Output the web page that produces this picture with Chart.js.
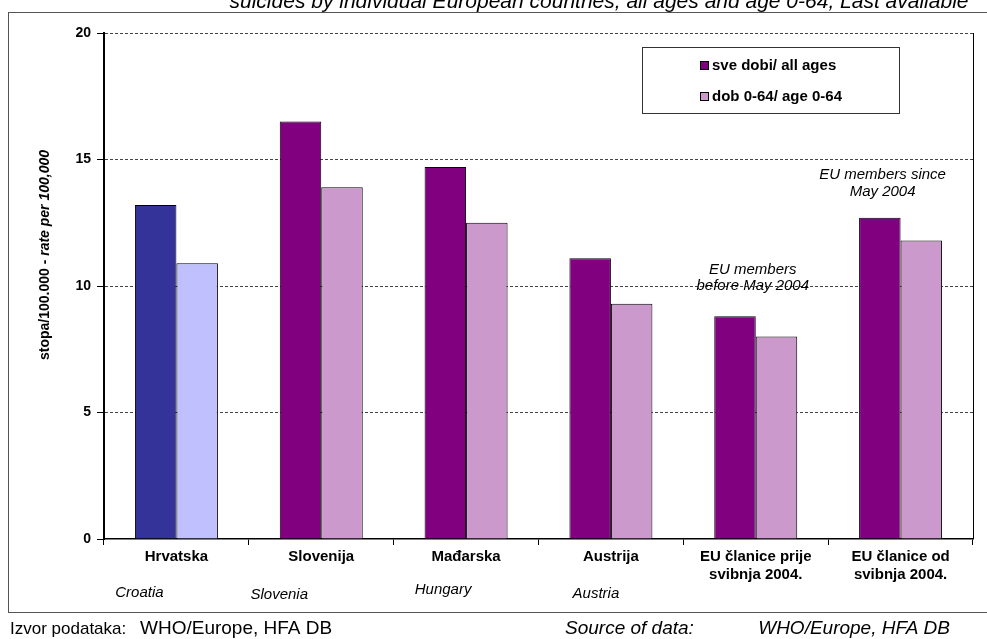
<!DOCTYPE html>
<html>
<head>
<meta charset="utf-8">
<script src="https://cdn.jsdelivr.net/npm/chart.js@4.4.1/dist/chart.umd.min.js"></script>
<style>
  html, body { margin: 0; padding: 0; background: #fff; }
  #wrap { width: 987px; height: 639px; position: relative; }
</style>
</head>
<body>
<div id="wrap"><canvas id="chart" width="987" height="639"></canvas></div>
<script>
  // 数据
  const categories = [
    ['Hrvatska'],
    ['Slovenija'],
    ['Mađarska'],
    ['Austrija'],
    ['EU članice prije', 'svibnja 2004.'],
    ['EU članice od', 'svibnja 2004.']
  ];
  const englishNames = ['Croatia', 'Slovenia', 'Hungary', 'Austria'];
  const allAges = [13.2, 16.5, 14.7, 11.1, 8.8, 12.7];
  const age064 = [10.9, 13.9, 12.5, 9.3, 8.0, 11.8];
  const seriesNames = ['sve dobi/ all ages', 'dob 0-64/ age 0-64'];

  // 颜色 (Hrvatska 单独着色)
  const allAgesColors = ['#333399', '#800080', '#800080', '#800080', '#800080', '#800080'];
  const age064Colors = ['#C0C0FF', '#CC99CC', '#CC99CC', '#CC99CC', '#CC99CC', '#CC99CC'];

  const FONT = '"Liberation Sans", Arial, sans-serif';

  // 自定义绘制: 外框, 标题, 图例, 注释, 来源
  const decorations = {
    id: 'decorations',
    beforeDraw(chart) {
      const ctx = chart.ctx;
      ctx.save();
      ctx.fillStyle = '#fff';
      ctx.fillRect(0, 0, chart.width, chart.height);
      ctx.restore();
    },
    afterDraw(chart) {
      const ctx = chart.ctx;
      const area = chart.chartArea;
      const x = chart.scales.x;
      ctx.save();

      // 外框
      ctx.strokeStyle = '#555';
      ctx.lineWidth = 1;
      ctx.strokeRect(8.5, 12.5, 990, 600);

      // 绘图区右边线
      ctx.strokeStyle = '#000';
      ctx.beginPath();
      ctx.moveTo(area.right + 0.5, area.top);
      ctx.lineTo(area.right + 0.5, area.bottom);
      ctx.stroke();

      // 标题 (上部被裁掉)
      ctx.fillStyle = '#000';
      ctx.font = 'italic 21px ' + FONT;
      ctx.textAlign = 'center';
      ctx.textBaseline = 'alphabetic';
      ctx.fillText('suicides by individual European countries, all ages and age 0-64, Last available', 599, 8);

      // Y 轴标题
      ctx.save();
      ctx.translate(45, 255);
      ctx.rotate(-Math.PI / 2);
      const p1 = 'stopa/100.000 - ';
      const p2 = 'rate per 100,000';
      ctx.font = 'bold 14px ' + FONT;
      const w1 = ctx.measureText(p1).width;
      ctx.font = 'italic bold 14px ' + FONT;
      const w2 = ctx.measureText(p2).width;
      ctx.textAlign = 'left';
      ctx.textBaseline = 'middle';
      ctx.font = 'bold 14px ' + FONT;
      ctx.fillText(p1, -(w1 + w2) / 2, 0);
      ctx.font = 'italic bold 14px ' + FONT;
      ctx.fillText(p2, -(w1 + w2) / 2 + w1, 0);
      ctx.restore();

      // 英文国名
      ctx.font = 'italic 15px ' + FONT;
      ctx.textAlign = 'center';
      ctx.textBaseline = 'middle';
      const engDx = [-37, -42, -23, -15];
      const engY = [593, 595, 590, 594];
      englishNames.forEach((name, i) => {
        ctx.fillText(name, x.getPixelForValue(i) + engDx[i], engY[i]);
      });

      // 注释
      ctx.font = 'italic 15px ' + FONT;
      const c4 = x.getPixelForValue(4);
      const c5 = x.getPixelForValue(5);
      ctx.fillText('EU members', c4 - 3, 270);
      ctx.fillText('before May 2004', c4 - 3, 286);
      ctx.fillText('EU members since', c5 - 18, 175);
      ctx.fillText('May 2004', c5 - 18, 192);

      // 图例
      ctx.fillStyle = '#fff';
      ctx.fillRect(642, 47, 257, 66);
      ctx.strokeStyle = '#333';
      ctx.lineWidth = 1;
      ctx.strokeRect(642.5, 47.5, 257, 66);
      const legendColors = ['#800080', '#CC99CC'];
      const legendY = [66, 97];
      ctx.font = 'bold 15px ' + FONT;
      ctx.textAlign = 'left';
      seriesNames.forEach((name, i) => {
        ctx.fillStyle = legendColors[i];
        ctx.fillRect(700.5, legendY[i] - 4.5, 8, 8);
        ctx.strokeStyle = '#000';
        ctx.strokeRect(700.5, legendY[i] - 4.5, 8, 8);
        ctx.fillStyle = '#000';
        ctx.fillText(name, 712, legendY[i]);
      });

      // 数据来源
      ctx.textBaseline = 'alphabetic';
      ctx.font = '17px ' + FONT;
      ctx.fillText('Izvor podataka:', 10, 634);
      ctx.font = '19px ' + FONT;
      ctx.fillText('WHO/Europe, HFA DB', 140, 634);
      ctx.font = 'italic 19px ' + FONT;
      ctx.fillText('Source of data:', 565, 634);
      ctx.textAlign = 'right';
      ctx.fillText('WHO/Europe, HFA DB', 950, 634);

      ctx.restore();
    }
  };

  new Chart(document.getElementById('chart'), {
    type: 'bar',
    data: {
      labels: categories,
      datasets: [
        {
          label: seriesNames[0],
          data: allAges,
          backgroundColor: allAgesColors,
          borderColor: '#000',
          borderWidth: 1,
          categoryPercentage: 0.573,
          barPercentage: 1
        },
        {
          label: seriesNames[1],
          data: age064,
          backgroundColor: age064Colors,
          borderColor: '#000',
          borderWidth: 1,
          categoryPercentage: 0.573,
          barPercentage: 1
        }
      ]
    },
    options: {
      responsive: false,
      animation: false,
      devicePixelRatio: 1,
      layout: { padding: { left: 0, top: 33, right: 14, bottom: 0 } },
      scales: {
        x: {
          afterFit(scale) { scale.height = 100; },
          grid: {
            offset: true,
            drawOnChartArea: false,
            drawTicks: true,
            tickLength: 6,
            tickColor: '#000'
          },
          border: { display: true, color: '#000', width: 1.5 },
          ticks: {
            color: '#000',
            font: { family: FONT, size: 15, weight: 'bold' },
            padding: 3,
            maxRotation: 0,
            autoSkip: false
          }
        },
        y: {
          min: 0,
          max: 20,
          afterFit(scale) { scale.width = 104; },
          grid: {
            color: (c) => (c.tick && c.tick.value === 0 ? 'rgba(0,0,0,0)' : '#444'),
            lineWidth: 1,
            tickColor: '#000',
            tickLength: 7,
            tickBorderDash: []
          },
          border: { display: true, color: '#000', width: 2, dash: [3, 2] },
          ticks: {
            stepSize: 5,
            color: '#000',
            font: { family: FONT, size: 14, weight: 'bold' },
            padding: 6
          }
        }
      },
      plugins: {
        legend: { display: false },
        title: { display: false },
        tooltip: { enabled: false }
      }
    },
    plugins: [decorations]
  });
</script>
</body>
</html>
